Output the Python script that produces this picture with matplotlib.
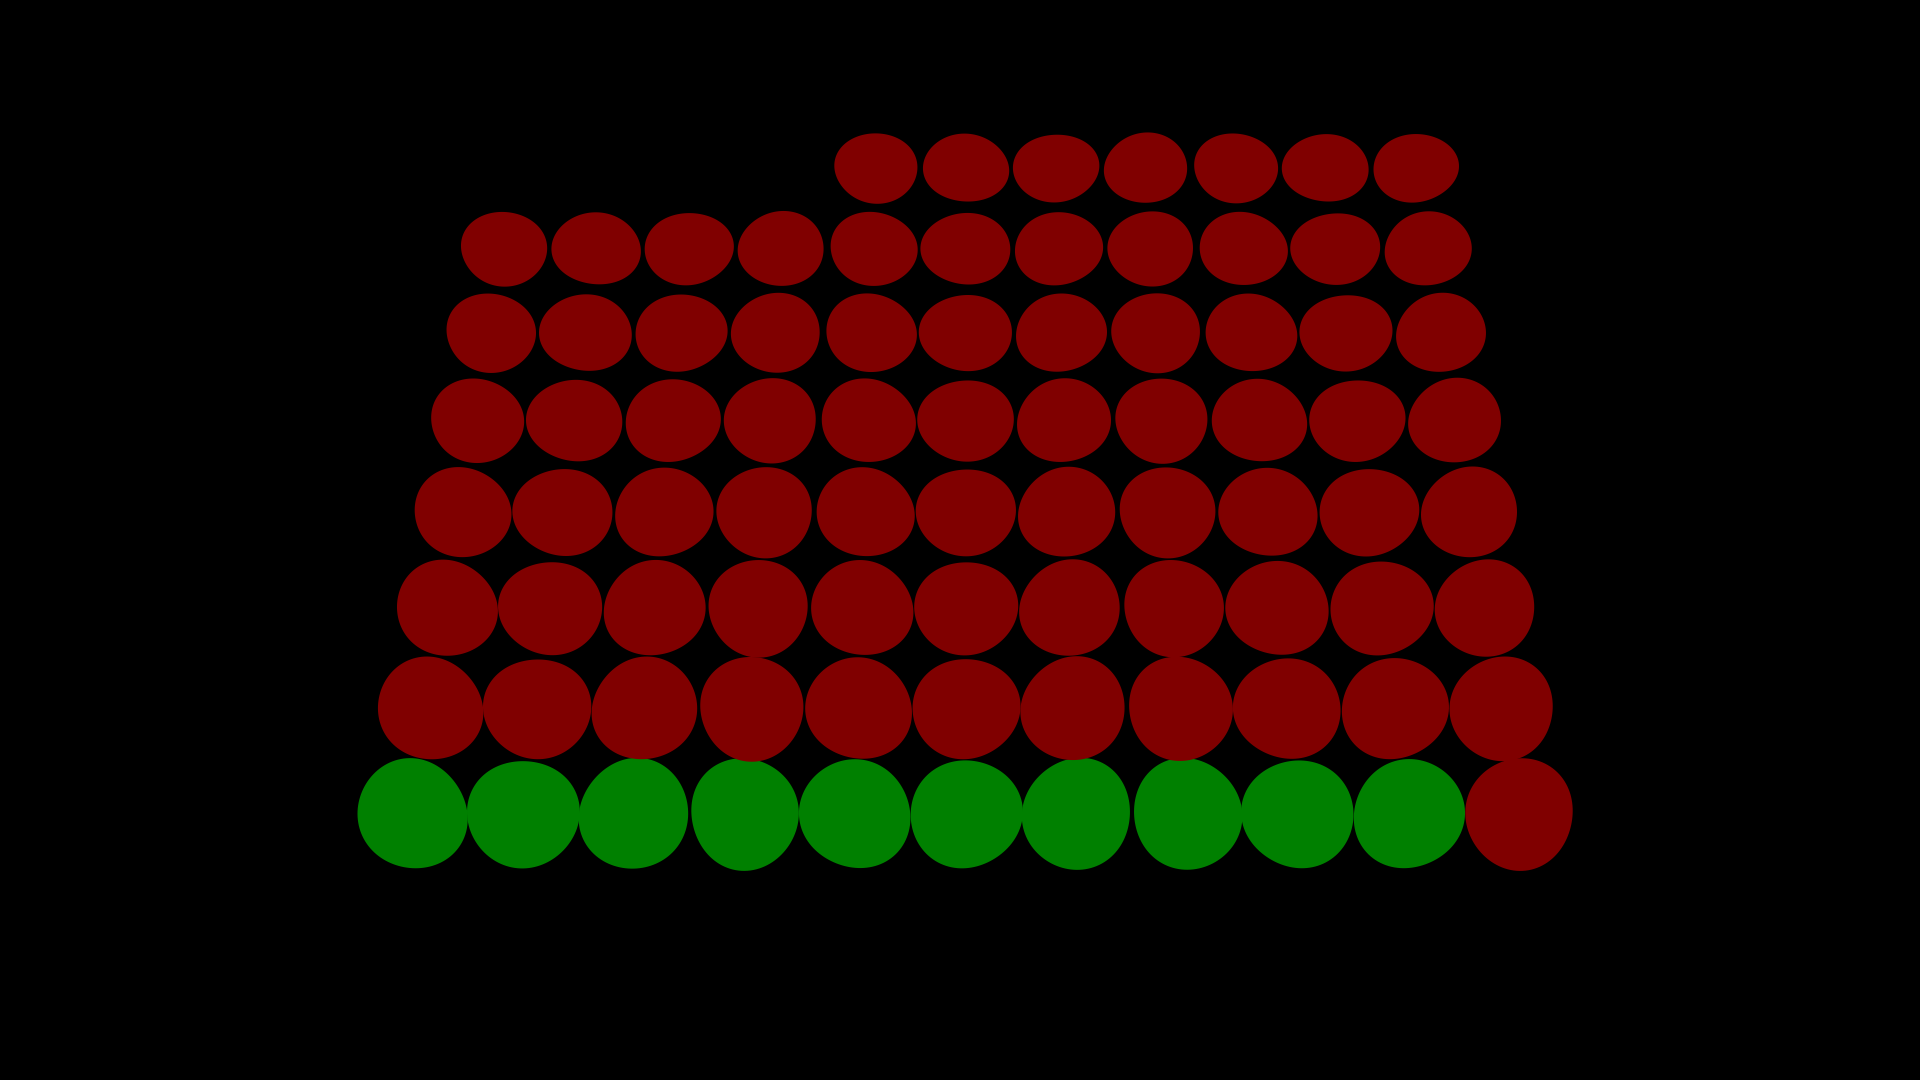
"""Perspective pictogram: 84 blobs, 10 highlighted in green."""

import numpy as np
import matplotlib
matplotlib.use("Agg")
import matplotlib.pyplot as plt
from matplotlib.patches import Polygon

# data
TOTAL = 84
HIGHLIGHT = 10
PER_ROW = 11

# palette
BG, RED, GREEN = "#000000", "#800000", "#008000"

# layout (pixel space of a 1920x1080 canvas)
W, H = 1920, 1080
CX = 966            # horizontal centre of the grid
Y0 = 814            # centre of the front (bottom) row
GAP0 = 110.7        # column spacing on the front row
DIAM0 = 110         # blob width on the front row
DEPTH = 0.033       # perspective shrink per row


def scale(r):
    return 1.0 / (1.0 + DEPTH * r)


def row_y(r):
    y = Y0
    for k in range(r):
        y -= 108 * scale(k + 0.5) ** 1.5
    return y


def blob(cx, cy, w, h, seed):
    # slightly wobbly outline so the marks look hand-cut
    t = np.linspace(0, 2 * np.pi, 120, endpoint=False)
    p1, p2 = seed * 1.7, seed * 2.9
    rr = 1 + 0.025 * np.sin(2 * t + p1) + 0.015 * np.sin(3 * t + p2)
    return np.column_stack([cx + w / 2 * rr * np.cos(t), cy + h / 2 * rr * np.sin(t)])


fig = plt.figure(figsize=(19.2, 10.8), dpi=100, facecolor=BG)
ax = fig.add_axes([0, 0, 1, 1])
ax.set_facecolor(BG)
ax.set_xlim(0, W)
ax.set_ylim(H, 0)
ax.axis("off")

n_rows = int(np.ceil(TOTAL / PER_ROW))
for i in range(TOTAL):
    r, c = divmod(i, PER_ROW)
    if r == n_rows - 1:
        # last (back) row is right-aligned
        c += PER_ROW - (TOTAL - r * PER_ROW)
    s = scale(r)
    gap = GAP0 * s
    x = CX + (c - (PER_ROW - 1) / 2) * gap
    y = row_y(r)
    w = DIAM0 * s ** 1.25
    h = w * s
    color = GREEN if i < HIGHLIGHT else RED
    ax.add_patch(Polygon(blob(x, y, w, h, i), closed=True, facecolor=color,
                         edgecolor="none"))

fig.savefig("out.png", dpi=100, facecolor=BG)
